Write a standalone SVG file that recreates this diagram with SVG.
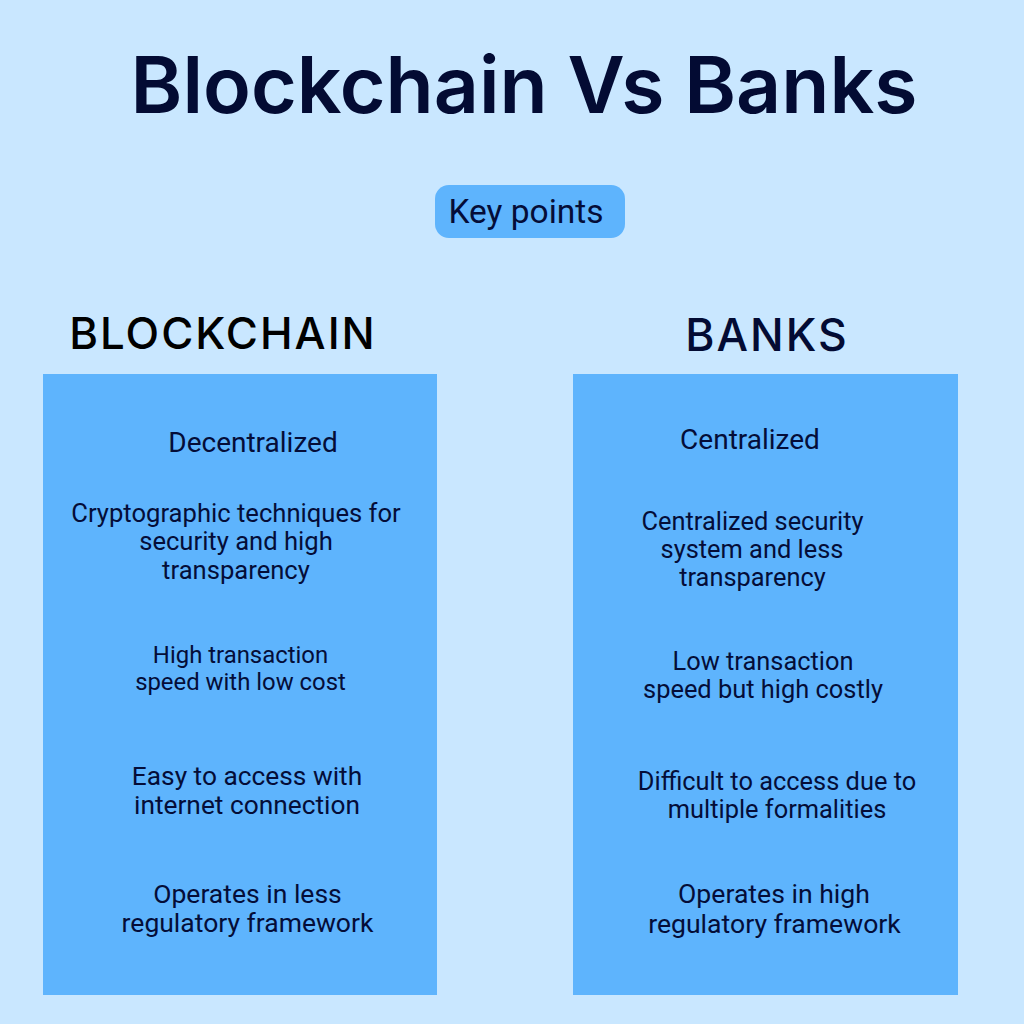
<svg xmlns="http://www.w3.org/2000/svg" width="1024" height="1024" viewBox="0 0 1024 1024">
<style>
.b{font-family:Roboto,"Liberation Sans",sans-serif;font-size:25.4px;fill:#040d38;text-anchor:middle}
.l{font-size:26.5px}
.t{font-size:28px}
.h{font-family:Inter,"Noto Sans",sans-serif;font-weight:500;fill:#030b33;text-anchor:middle}
.p{fill:#5eb4fd}
</style>
<rect width="1024" height="1024" fill="#c9e7ff"/>
<text id="title" class="h" x="524" y="113" font-size="78.7" style="font-weight:600">Blockchain Vs Banks</text>
<g id="keypoints"><rect class="p" x="435" y="185" width="190" height="53" rx="14"/><text class="b" x="526" y="223" style="font-size:33.5px">Key points</text></g>
<g id="blockchain"><text class="h" x="223" y="349" font-size="43.8" letter-spacing="2" style="fill:#000">BLOCKCHAIN</text><rect class="p" x="43" y="374" width="394" height="621"/>
<text class="b t" x="253" y="452">Decentralized</text>
<text class="b" x="236" y="522" style="font-size:25.6px">Cryptographic techniques for</text><text class="b" x="236" y="550" style="font-size:25.6px">security and high</text><text class="b" x="236" y="578.500" style="font-size:25.6px">transparency</text>
<text class="b" x="240.500" y="663" style="font-size:23.9px">High transaction</text><text class="b" x="240.500" y="690" style="font-size:23.9px">speed with low cost</text>
<text class="b" x="247" y="785" style="font-size:26.3px">Easy to access with</text><text class="b" x="247" y="814" style="font-size:26.3px">internet connection</text>
<text class="b l" x="247.500" y="902.500">Operates in less</text><text class="b l" x="247.500" y="931.500">regulatory framework</text></g>
<g id="banks"><text class="h" x="767" y="351" font-size="44.5" letter-spacing="2">BANKS</text><rect class="p" x="573" y="374" width="385" height="621"/>
<text class="b t" x="750" y="448.500">Centralized</text>
<text class="b" x="752.500" y="529.500">Centralized security</text><text class="b" x="752" y="558">system and less</text><text class="b" x="752.500" y="586">transparency</text>
<text class="b" x="763" y="670">Low transaction</text><text class="b" x="763" y="698">speed but high costly</text>
<text class="b" x="777" y="790">Difficult to access due to</text><text class="b" x="777" y="818">multiple formalities</text>
<text class="b" x="774" y="902.500" style="font-size:26.6px">Operates in high</text><text class="b" x="774.500" y="932.500" style="font-size:26.6px">regulatory framework</text></g>
</svg>
